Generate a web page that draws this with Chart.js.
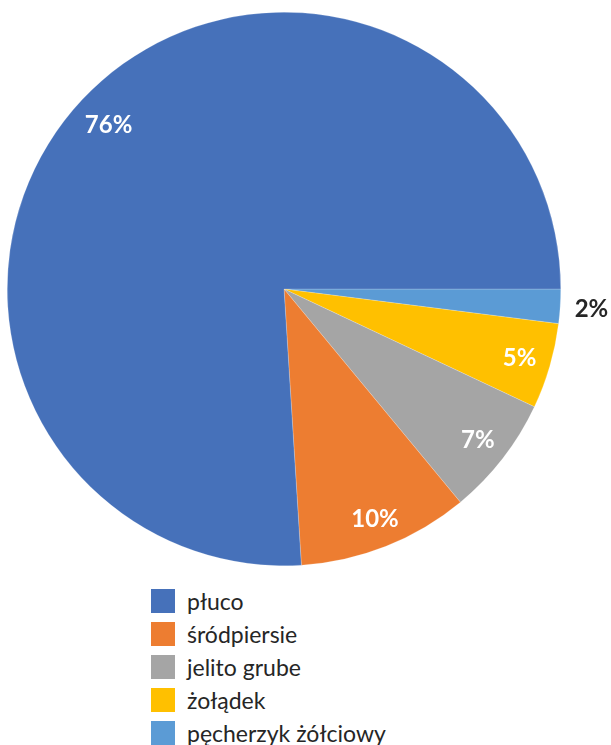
<!DOCTYPE html>
<html lang="pl">
<head>
  <meta charset="UTF-8">
  <title>Lokalizacja</title>
  <script src="https://cdn.jsdelivr.net/npm/chart.js"></script>
  <style>
    body {
      margin: 0;
      background: #fff;
      font-family: Lato, sans-serif;
    }
    #wrap {
      position: relative;
      width: 611px;
      height: 745px;
    }
    #chartCanvas {
      position: absolute;
      left: 0;
      top: 0;
    }
    #legend {
      position: absolute;
      left: 151px;
      top: 589px;
    }
    .item {
      height: 33px;
      position: relative;
    }
    .box {
      position: absolute;
      left: 0;
      top: 0;
      width: 24px;
      height: 24px;
    }
    .txt {
      position: absolute;
      left: 36px;
      top: -2px;
      font-size: 23px;
      line-height: 28px;
      color: #262626;
      white-space: nowrap;
    }
  </style>
</head>
<body>
<div id="wrap">
  <canvas id="chartCanvas" width="611" height="580"></canvas>
  <div id="legend"></div>
</div>

<script>
  // dane
  const labels = ["płuco", "śródpiersie", "jelito grube", "żołądek", "pęcherzyk żółciowy"];
  const values = [76, 10, 7, 5, 2];
  const colors = ["#4671BA", "#ED7D31", "#A5A5A5", "#FFC000", "#5B9BD5"];

  // wykres w Excelu idzie przeciwnie do ruchu wskazówek, wiec odwracamy kolejnosc
  const revLabels = labels.slice().reverse();
  const revValues = values.slice().reverse();
  const revColors = colors.slice().reverse();

  // etykiety procentowe: "wewnatrz na koncu", maly wycinek na zewnatrz
  const pctLabels = {
    id: "pctLabels",
    afterDatasetsDraw(chart) {
      const ctx = chart.ctx;
      const meta = chart.getDatasetMeta(0);
      const total = revValues.reduce((a, b) => a + b, 0);
      ctx.save();
      ctx.font = "bold 24px Lato";
      ctx.textAlign = "center";
      ctx.textBaseline = "middle";
      meta.data.forEach((arc, i) => {
        const p = arc.getProps(["x", "y", "startAngle", "endAngle", "outerRadius"], true);
        const mid = (p.startAngle + p.endAngle) / 2;
        const share = revValues[i] / total;
        const txt = Math.round(share * 100) + "%";
        const w = ctx.measureText(txt).width;
        const ext = Math.abs(Math.cos(mid)) * w / 2 + Math.abs(Math.sin(mid)) * 8.5;
        let r, col;
        if (share < 0.03) {
          r = p.outerRadius + 14 + ext;
          col = "#262626";
        } else {
          r = p.outerRadius - 13 - ext;
          col = "#ffffff";
        }
        ctx.fillStyle = col;
        ctx.fillText(txt, p.x + Math.cos(mid) * r, p.y + Math.sin(mid) * r + 1);
      });
      ctx.restore();
    }
  };

  const chart = new Chart(document.getElementById("chartCanvas").getContext("2d"), {
    type: "pie",
    data: {
      labels: revLabels,
      datasets: [{
        data: revValues,
        backgroundColor: revColors,
        borderColor: "rgba(255,255,255,0.4)",
        borderWidth: 0.5
      }]
    },
    options: {
      responsive: false,
      animation: false,
      rotation: 90,
      layout: {
        padding: { left: 7, right: 50, top: 12, bottom: 14 }
      },
      plugins: {
        legend: { display: false },
        tooltip: { enabled: false }
      }
    },
    plugins: [pctLabels]
  });

  // legenda pod wykresem
  const legend = document.getElementById("legend");
  labels.forEach((l, i) => {
    const row = document.createElement("div");
    row.className = "item";
    row.innerHTML = `<div class="box" style="background:${colors[i]}"></div><div class="txt">${l}</div>`;
    legend.appendChild(row);
  });
</script>
</body>
</html>
